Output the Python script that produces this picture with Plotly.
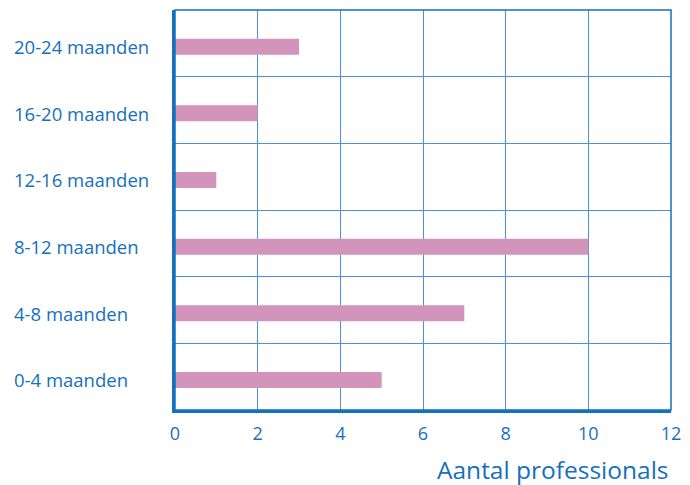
import plotly.graph_objects as go

categories = ["0-4 maanden", "4-8 maanden", "8-12 maanden", "12-16 maanden", "16-20 maanden", "20-24 maanden"]
values = [5, 7, 10, 1, 2, 3]
x_ticks = [0, 2, 4, 6, 8, 10, 12]
x_title = "Aantal professionals"

BLUE = "#1570bd"
GRID = "#4a92d2"
BAR = "#d394bc"
FONT = "Open Sans"

fig = go.Figure(go.Bar(
    x=values, y=categories, orientation="h",
    marker=dict(color=BAR, line=dict(width=0)),
    width=0.24, offset=-0.17,
))

fig.update_layout(
    width=690, height=485,
    margin=dict(l=175, r=19, t=10, b=75),
    paper_bgcolor="white", plot_bgcolor="white",
    showlegend=False,
    font=dict(family=FONT, color=BLUE),
    xaxis=dict(
        range=[0, 12], tickvals=x_ticks, showgrid=True, gridcolor=GRID, gridwidth=1.4,
        showline=True, linecolor=BLUE, linewidth=3, zeroline=False,
        tickfont=dict(size=18, color=BLUE, family=FONT), ticks="", ticklabelstandoff=5,
        fixedrange=True,
    ),
    yaxis=dict(
        categoryorder="array", categoryarray=categories,
        tickson="boundaries", showgrid=True, gridcolor=GRID, gridwidth=1.4,
        showline=True, linecolor=BLUE, linewidth=3, showticklabels=False, ticks="",
        range=[-0.5, 5.5], fixedrange=True,
    ),
    shapes=[dict(type="rect", xref="paper", yref="paper", x0=0, x1=1, y0=0, y1=1,
                 line=dict(color=BLUE, width=1.5), layer="above")],
)

for cat in categories:
    fig.add_annotation(
        x=-163/496, xref="paper", y=cat, yref="y", yshift=-3,
        text=cat, showarrow=False, xanchor="left", yanchor="middle",
        font=dict(size=18.5, color=BLUE, family=FONT),
    )

fig.add_annotation(
    x=1, xref="paper", y=-0.102, yref="paper", text=x_title, showarrow=False,
    xanchor="right", yanchor="top", font=dict(size=24.5, color=BLUE, family=FONT),
)

fig.write_html("out.html", config={"displayModeBar": False},
               post_script="document.body.style.margin='0';")
